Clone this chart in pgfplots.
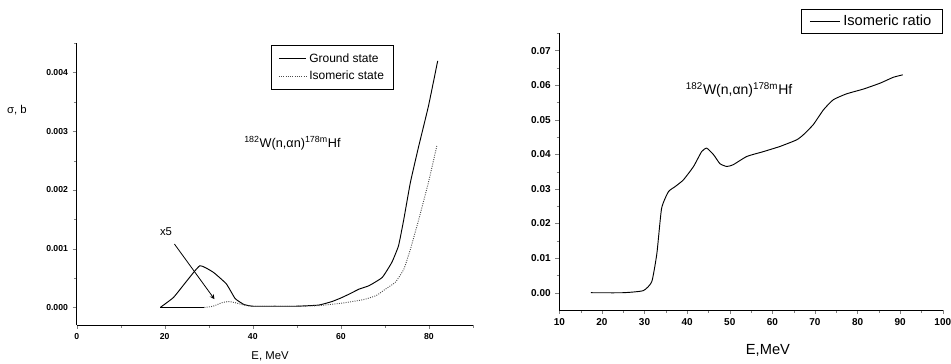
\documentclass[border=0pt]{standalone}
\usepackage{pgfplots}
\pgfplotsset{compat=1.18}
\usepackage{fontspec}
\setmainfont{Liberation Sans}
\begin{document}
\begin{tikzpicture}[x=0.75pt,y=0.75pt]
\path[use as bounding box] (0,0) rectangle (951,364);
% ---------------- left axis ----------------
\begin{axis}[
  at={(57.5pt,29.25pt)}, anchor=south west,
  scale only axis, width=297.2pt, height=211.3pt,
  xmin=0, xmax=90, ymin=-0.0003, ymax=0.0045,
  axis x line*=bottom, axis y line*=left,
  xtick={0,20,40,60,80}, minor xtick={10,30,50,70,90},
  ytick={0,0.001,0.002,0.003,0.004},
  minor ytick={0.0005,0.0015,0.0025,0.0035,0.0045},
  tick align=outside, major tick length=3pt, minor tick length=2pt,
  scaled y ticks=false,
  yticklabel style={/pgf/number format/fixed,/pgf/number format/precision=3,/pgf/number format/fixed zerofill},
  /pgf/number format/assume math mode=true,
  tick label style={font=\fontsize{6.5}{7}\selectfont\bfseries},
  xlabel={E, MeV}, ylabel={σ, b},
  xlabel style={at={(rel axis cs:0.488,-0.11)}, anchor=center, font=\fontsize{8.5}{9}\selectfont},
  ylabel style={at={(rel axis cs:-0.151,0.763)}, anchor=center, rotate=-90, font=\fontsize{8.5}{9}\selectfont},
  legend style={at={(rel axis cs:0.80,0.994)}, anchor=north east, draw=black, line width=0.6pt,
    font=\fontsize{9}{10}\selectfont, inner xsep=5pt, inner ysep=4pt, row sep=1pt},
  legend cell align=left,
  legend image code/.code={\draw[#1] (0cm,0cm) -- (0.72cm,0cm);},
  every axis plot/.append style={line width=0.7pt},
]
\addplot[black, smooth, tension=0.25] coordinates {
(19,0) (22,0.00017) (25,0.00045) (28,0.00071) (31,0.0006) (34,0.0004) (36,0.00015)
(38,0.00005) (40,0.00002) (45,0.00002) (50,0.00002) (55,0.00004) (58,0.0001)
(60,0.00016) (62,0.00023) (64.1,0.00031) (66.4,0.00037) (69.4,0.00051) (71.6,0.00077)
(73.1,0.00105) (74.3,0.0015) (75.8,0.00213) (77.7,0.00275) (79.9,0.00343) (82,0.0042)};
\addlegendentry{Ground state}
\addplot[black!70, densely dotted, smooth, tension=0.25] coordinates {
(29,0) (31,0.00002) (33,0.00008) (34.5,0.0001) (36,0.00008) (38,0.00004) (40,0.00002)
(50,0.00002) (55,0.00003) (60,0.00007) (65,0.00013) (68,0.0002) (70.1,0.00031)
(72.4,0.00043) (74.3,0.00065) (75.8,0.00099) (77.7,0.0015) (79.9,0.00213) (81.8,0.00275)};
\addlegendentry{Isomeric state}
\addplot[black, forget plot, line width=0.7pt] coordinates {(19,0) (29,0)};
\draw[->, >=stealth, line width=0.6pt] (axis cs:22.2,0.00108) -- (axis cs:31.3,0.00014);
\node[font=\fontsize{8.5}{9}\selectfont] at (axis cs:20.3,0.00129) {x5};
\node[font=\fontsize{9.5}{10}\selectfont] at (axis cs:49,0.00279)
  {\textsuperscript{182}W(n,αn)\textsuperscript{178m}Hf};
\end{axis}
% ---------------- right axis ----------------
\begin{axis}[
  at={(419.5pt,40.5pt)}, anchor=south west,
  scale only axis, width=287.6pt, height=207.5pt,
  xmin=10, xmax=100, ymin=-0.005, ymax=0.075,
  axis x line*=bottom, axis y line*=left,
  xtick={10,20,...,100}, minor xtick={15,25,...,95},
  ytick={0,0.01,...,0.07}, minor ytick={0.005,0.015,...,0.075},
  tick align=outside, major tick length=3pt, minor tick length=2pt,
  scaled y ticks=false,
  yticklabel style={/pgf/number format/fixed,/pgf/number format/precision=2,/pgf/number format/fixed zerofill},
  /pgf/number format/assume math mode=true,
  tick label style={font=\fontsize{7.5}{8}\selectfont\bfseries},
  xlabel={E,MeV},
  xlabel style={at={(rel axis cs:0.544,-0.145)}, anchor=center, font=\fontsize{11}{12}\selectfont},
  legend style={at={(rel axis cs:0.63,1.087)}, anchor=north west, draw=black, line width=0.6pt,
    font=\fontsize{11}{12}\selectfont, inner xsep=6pt, inner ysep=2pt},
  legend image code/.code={\draw[#1] (0cm,0cm) -- (0.8cm,0cm);},
  every axis plot/.append style={line width=0.7pt},
]
\addplot[black, smooth, tension=0.3] coordinates {
(17.4,0) (25,0) (29.7,0.0006) (31.7,0.0032) (32.9,0.0114) (34.0,0.0244) (35.6,0.0292)
(37.2,0.0307) (39.1,0.0326) (41.5,0.0365) (43.4,0.0408) (44.6,0.0418) (46.2,0.0399)
(47.7,0.0373) (49.3,0.0365) (50.8,0.037) (54.0,0.0394) (57.9,0.0408) (61.8,0.0423)
(65.7,0.0442) (67.3,0.0457) (69.6,0.0486) (72.0,0.0529) (74.3,0.0558) (77.4,0.0575)
(81.4,0.0589) (85.3,0.0606) (88.4,0.0623) (90.6,0.063)};
\addlegendentry{Isomeric ratio}
\node[font=\fontsize{10.5}{11}\selectfont] at (axis cs:52.2,0.0587)
  {\textsuperscript{182}W(n,αn)\textsuperscript{178m}Hf};
\end{axis}
\end{tikzpicture}
\end{document}
